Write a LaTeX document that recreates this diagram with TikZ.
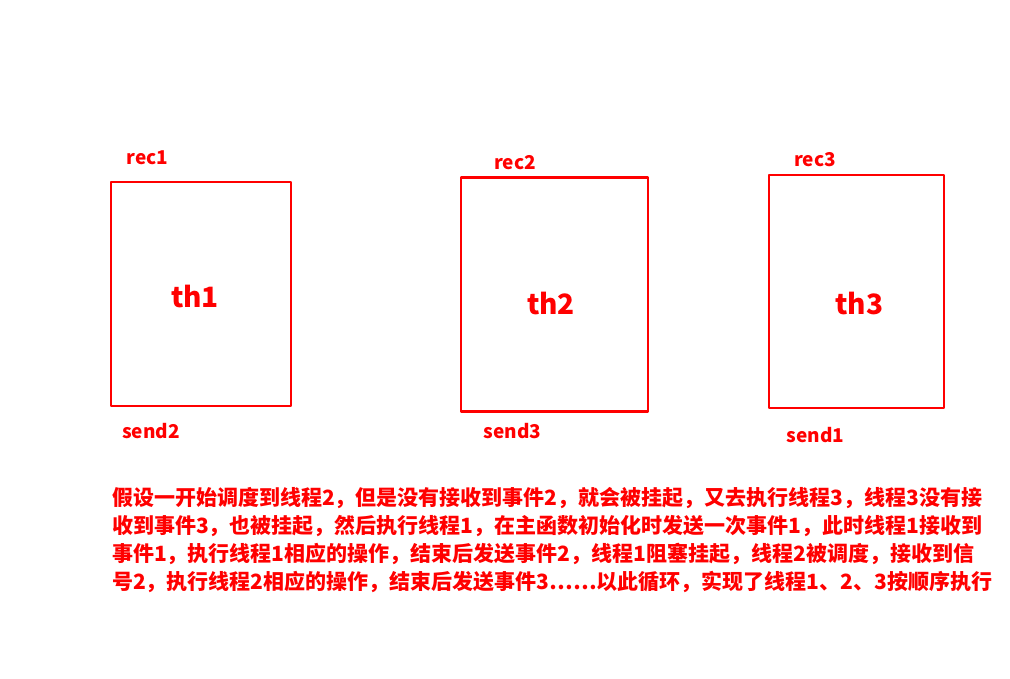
\documentclass[tikz,border=0pt]{standalone}
\usepackage{fontspec}
\newfontfamily\cjk{Noto Sans CJK SC}
\tikzset{
  thbox/.style={draw=red, line width=2.2pt, inner sep=0pt},
  thlabel/.style={anchor=base, text=red, font=\cjk\bfseries\fontsize{28}{30}\selectfont},
  lbl/.style={anchor=base, text=red, font=\cjk\bfseries\fontsize{19}{22}\selectfont},
  para/.style={anchor=base west, text=red, inner sep=0pt, font=\cjk\bfseries\fontsize{21}{28}\selectfont}
}
\begin{document}
\begin{tikzpicture}[x=1pt, y=-1pt, line join=round, line cap=round]
	\useasboundingbox (0,0) rectangle (1010,679);
	% threads
	\foreach \n/\x/\y/\w/\h in {1/201/294/180/224, 2/554.5/294.5/187/234, 3/856.5/291.5/175/233}
		\node[thbox, minimum width=\w, minimum height=\h] (box\n) at (\x,\y) {};
	\foreach \n/\x/\y in {1/195/308, 2/551/315, 3/859.5/315}
		\node[thlabel] (th\n) at (\x,\y) {th\n};
	% events
	\foreach \n/\x/\y in {1/147.5/165, 2/515/170, 3/815/167}
		\node[lbl] (rec\n) at (\x,\y) {rec\n};
	\foreach \s/\x/\y in {2/151/438, 3/512.5/438, 1/815.5/442}
		\node[lbl] (send\s) at (\x,\y) {send\s};
	% explanation
	\foreach \i/\t in {1/假设一开始调度到线程2，但是没有接收到事件2，就会被挂起，又去执行线程3，线程3没有接,
		2/收到事件3，也被挂起，然后执行线程1，在主函数初始化时发送一次事件1，此时线程1接收到,
		3/事件1，执行线程1相应的操作，结束后发送事件2，线程1阻塞挂起，线程2被调度，接收到信,
		4/号2，执行线程2相应的操作，结束后发送事件3……以此循环，实现了线程1、2、3按顺序执行}
		\node[para] (line\i) at (112,{505+28*(\i-1)}) {\t};
\end{tikzpicture}
\end{document}
